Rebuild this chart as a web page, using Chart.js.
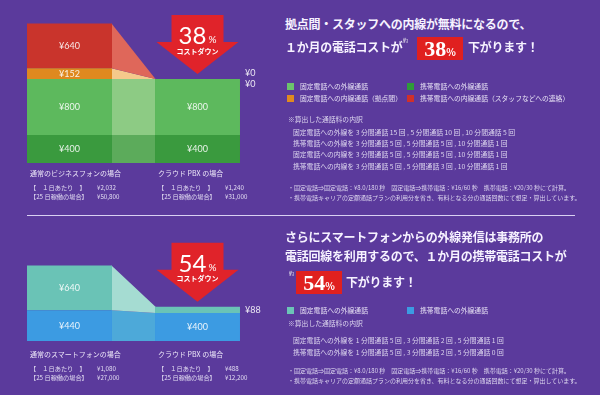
<!DOCTYPE html>
<html>
<head>
<meta charset="utf-8">
<script src="https://cdn.jsdelivr.net/npm/chart.js@4/dist/chart.umd.min.js"></script>
<style>
body { margin: 0; width: 600px; height: 395px; overflow: hidden; position: relative; background: #5b3a9c; color: #fff; font-family: "Noto Sans CJK JP", "Noto Sans", sans-serif; }
canvas { position: absolute; left: 0; }
.t { position: absolute; white-space: nowrap; line-height: 1; }
.head { font-size: 12px; font-weight: 700; letter-spacing: -0.25px; color: #f6f2ff; }
.yaku { font-size: 5px; color: #eee; }
.box { position: absolute; width: 46px; height: 23px; background: #e0201f; text-align: center; line-height: 23px; font-family: "Liberation Serif", serif; font-weight: 700; font-size: 22px; color: #fff; }
.box small { font-size: 10px; font-family: "Noto Sans CJK JP", sans-serif; }
.leg { font-size: 6.8px; color: #e6e0f4; }
.leg i { display: inline-block; width: 7px; height: 7px; margin-right: 6px; vertical-align: -1px; }
.sub { font-size: 6.8px; color: #ddd6ef; }
.note { font-size: 6px; color: #ddd6ef; }
.cap { font-size: 7px; color: #ece6f8; }
.sum { font-size: 6.2px; color: #e2dcf2; line-height: 9px; }
.sum span { display: inline-block; width: 67px; }
.rule { position: absolute; left: 27px; top: 215px; width: 548px; height: 1px; background: #d9d0f2; }
</style>
</head>
<body>
<canvas id="office" width="270" height="210" style="top:0"></canvas>
<canvas id="phone" width="270" height="200" style="top:195px"></canvas>
<div class="rule"></div>

<div class="t head" style="left:285px;top:18px">拠点間・スタッフへの内線が無料になるので、</div>
<div class="t head" style="left:285px;top:41px">１か月の電話コストが</div>
<div class="t yaku" style="left:403px;top:37px">約</div>
<div class="box" id="officeBox" style="left:417px;top:37px"></div>
<div class="t head" style="left:468px;top:41px">下がります！</div>

<div class="t leg" style="left:287px;top:83px"><i style="background:#6cc36c"></i>固定電話への外線通話</div>
<div class="t leg" style="left:407px;top:83px"><i style="background:#2f9a3a"></i>携帯電話への外線通話</div>
<div class="t leg" style="left:287px;top:95px"><i style="background:#e08a20"></i>固定電話への内線通話（拠点間）</div>
<div class="t leg" style="left:407px;top:95px"><i style="background:#d0302a"></i>携帯電話への内線通話（スタッフなどへの連絡）</div>

<div class="t sub" style="left:288px;top:116px">※算出した通話料の内訳</div>
<div class="t sub" style="left:293px;top:129px">固定電話への外線を 3 分間通話 15 回 , 5 分間通話 10 回 , 10 分間通話 5 回</div>
<div class="t sub" style="left:293px;top:140px">携帯電話への外線を 3 分間通話 5 回 , 5 分間通話 5 回 , 10 分間通話 1 回</div>
<div class="t sub" style="left:293px;top:151px">固定電話への内線を 3 分間通話 5 回 , 5 分間通話 5 回 , 10 分間通話 1 回</div>
<div class="t sub" style="left:293px;top:163px">携帯電話への内線を 3 分間通話 5 回 , 5 分間通話 3 回 , 10 分間通話 1 回</div>
<div class="t note" style="left:288px;top:185px">・固定電話⇒固定電話：¥8.0/180 秒　固定電話⇒携帯電話：¥16/60 秒　携帯電話：¥20/30 秒にて計算。</div>
<div class="t note" style="left:288px;top:195px">・携帯電話キャリアの定額通話プランの利用分を省き、有料となる分の通話回数にて想定・算出しています。</div>

<div class="t head" style="left:285px;top:231px">さらにスマートフォンからの外線発信は事務所の</div>
<div class="t head" style="left:285px;top:250px">電話回線を利用するので、１か月の携帯電話コストが</div>
<div class="t yaku" style="left:289px;top:270px">約</div>
<div class="box" id="phoneBox" style="left:296px;top:271px"></div>
<div class="t head" style="left:346px;top:276px">下がります！</div>

<div class="t leg" style="left:287px;top:307px"><i style="background:#6cc4b7"></i>固定電話への外線通話</div>
<div class="t leg" style="left:407px;top:307px"><i style="background:#3c9be2"></i>携帯電話への外線通話</div>
<div class="t sub" style="left:288px;top:320px">※算出した通話料の内訳</div>
<div class="t sub" style="left:293px;top:337px">固定電話への外線を 1 分間通話 5 回 , 3 分間通話 2 回 , 5 分間通話 1 回</div>
<div class="t sub" style="left:293px;top:349px">携帯電話への外線を 1 分間通話 5 回 , 3 分間通話 2 回 , 5 分間通話 0 回</div>
<div class="t note" style="left:288px;top:368px">・固定電話⇒固定電話：¥8.0/180 秒　固定電話⇒携帯電話：¥16/60 秒　携帯電話：¥20/30 秒にて計算。</div>
<div class="t note" style="left:288px;top:378px">・携帯電話キャリアの定額通話プランの利用分を省き、有料となる分の通話回数にて想定・算出しています。</div>

<div id="officeCaps"></div>
<div id="phoneCaps"></div>

<script>
// top chart: office phones vs cloud PBX (yen per day)
const officeLabels = ['通常のビジネスフォンの場合', 'クラウド PBX の場合'];
const officeMobileOut = [400, 400];
const officeFixedOut = [800, 800];
const officeFixedIn = [152, 0];
const officeMobileIn = [640, 0];
const officeDaily = ['¥2,032', '¥1,240'];
const officeMonthly = ['¥50,800', '¥31,000'];
const officeCut = '38';

// bottom chart: smartphones vs cloud PBX
const phoneLabels = ['通常のスマートフォンの場合', 'クラウド PBX の場合'];
const phoneMobileOut = [440, 400];
const phoneFixedOut = [640, 88];
const phoneDaily = ['¥1,080', '¥488'];
const phoneMonthly = ['¥27,000', '¥12,200'];
const phoneCut = '54';

const Y_MAX = 2000;

// lighter band joining each stacked block of the two bars
const linkPlugin = {
    id: 'costLinks',
    beforeDatasetsDraw(chart) {
        const ctx = chart.ctx;
        ctx.save();
        chart.data.datasets.forEach((ds, i) => {
            const [a, b] = chart.getDatasetMeta(i).data;
            const x1 = a.x + a.width / 2 - 0.5;
            const x2 = b.x - b.width / 2 + 0.5;
            ctx.fillStyle = ds.linkColor;
            ctx.beginPath();
            ctx.moveTo(x1, a.y);
            ctx.lineTo(x2, b.y);
            ctx.lineTo(x2, b.base);
            ctx.lineTo(x1, a.base);
            ctx.closePath();
            ctx.fill();
        });
        ctx.restore();
    }
};

const valuePlugin = {
    id: 'costValues',
    afterDatasetsDraw(chart) {
        const ctx = chart.ctx;
        ctx.save();
        ctx.font = '9px Lato, "Noto Sans", sans-serif';
        ctx.fillStyle = 'rgba(255,255,255,0.88)';
        ctx.textBaseline = 'middle';
        const outside = [[], []];
        chart.data.datasets.forEach((ds, i) => {
            chart.getDatasetMeta(i).data.forEach((bar, j) => {
                const text = '¥' + ds.data[j];
                if (bar.base - bar.y >= 9) {
                    ctx.textAlign = 'center';
                    ctx.fillText(text, bar.x, (bar.y + bar.base) / 2);
                } else {
                    outside[j].push({ bar, text });
                }
            });
        });
        outside.forEach(list => {
            list.forEach((item, k) => {
                const y = (item.bar.y + item.bar.base) / 2 + (list.length - 1 - 2 * k) * 5.5;
                ctx.textAlign = 'left';
                ctx.fillText(item.text, item.bar.x + item.bar.width / 2 + 5, y);
            });
        });
        ctx.restore();
    }
};

const arrowPlugin = {
    id: 'costArrow',
    afterDatasetsDraw(chart, args, opts) {
        const metas = chart.getSortedVisibleDatasetMetas();
        const cx = metas[0].data[1].x;
        const tip = Math.min(...metas.map(m => m.data[1].y)) - 5;
        const ctx = chart.ctx;
        ctx.save();
        ctx.fillStyle = '#e0232a';
        ctx.beginPath();
        ctx.moveTo(cx - 26, tip - 59);
        ctx.lineTo(cx + 26, tip - 59);
        ctx.lineTo(cx + 26, tip - 32);
        ctx.lineTo(cx + 41, tip - 32);
        ctx.lineTo(cx, tip);
        ctx.lineTo(cx - 41, tip - 32);
        ctx.lineTo(cx - 26, tip - 32);
        ctx.closePath();
        ctx.fill();

        ctx.fillStyle = '#fff';
        ctx.textBaseline = 'alphabetic';
        ctx.font = '24px Lato, "Noto Sans", sans-serif';
        const w1 = ctx.measureText(opts.text).width;
        ctx.font = '10px Lato, "Noto Sans", sans-serif';
        const w2 = ctx.measureText('%').width;
        const x0 = cx - (w1 + 2 + w2) / 2;
        ctx.textAlign = 'left';
        ctx.font = '24px Lato, "Noto Sans", sans-serif';
        ctx.fillText(opts.text, x0, tip - 30);
        ctx.font = '10px Lato, "Noto Sans", sans-serif';
        ctx.fillText('%', x0 + w1 + 2, tip - 31);
        ctx.font = 'bold 7px "Noto Sans CJK JP", sans-serif';
        ctx.textAlign = 'center';
        ctx.textBaseline = 'middle';
        ctx.fillText('コストダウン', cx, tip - 23);
        ctx.restore();
    }
};

function renderCostChart(canvasId, labels, datasets, cut, padding) {
    return new Chart(document.getElementById(canvasId), {
        type: 'bar',
        data: { labels: labels, datasets: datasets },
        options: {
            responsive: false,
            animation: false,
            layout: { padding: padding },
            datasets: { bar: { categoryPercentage: 0.664, barPercentage: 1, borderWidth: 0 } },
            plugins: {
                legend: { display: false },
                tooltip: { enabled: false },
                costArrow: { text: cut }
            },
            scales: {
                x: { display: false, stacked: true },
                y: { display: false, stacked: true, min: 0, max: Y_MAX }
            }
        },
        plugins: [linkPlugin, valuePlugin, arrowPlugin]
    });
}

function renderCaptions(elId, chart, labels, daily, monthly, gap) {
    const meta = chart.getDatasetMeta(0);
    const top = chart.canvas.offsetTop + chart.chartArea.bottom + gap;
    let html = '';
    labels.forEach((label, j) => {
        const x = meta.data[j].x - meta.data[j].width / 2 + 3;
        html += '<div class="t cap" style="left:' + x + 'px;top:' + top + 'px">' + label + '</div>';
        html += '<div class="t sum" style="left:' + x + 'px;top:' + (top + 13) + 'px">' +
            '<span>【　１日あたり　】</span>' + daily[j] + '<br><span>【25 日稼働の場合】</span>' + monthly[j] + '</div>';
    });
    document.getElementById(elId).innerHTML = html;
}

const office = renderCostChart('office', officeLabels, [
    { label: '携帯電話への外線通話', data: officeMobileOut, backgroundColor: '#3a9a3e', linkColor: '#5cab5b' },
    { label: '固定電話への外線通話', data: officeFixedOut, backgroundColor: '#5db95d', linkColor: '#8dcb84' },
    { label: '固定電話への内線通話（拠点間）', data: officeFixedIn, backgroundColor: '#df891f', linkColor: '#f5c98b' },
    { label: '携帯電話への内線通話（スタッフなどへの連絡）', data: officeMobileIn, backgroundColor: '#c9342c', linkColor: '#df675a' }
], officeCut, { left: 5.5, right: 8.5, top: 23, bottom: 47 });

const phone = renderCostChart('phone', phoneLabels, [
    { label: '携帯電話への外線通話', data: phoneMobileOut, backgroundColor: '#3c9be2', linkColor: '#4da9d9' },
    { label: '固定電話への外線通話', data: phoneFixedOut, backgroundColor: '#6ac3b6', linkColor: '#a5dcd2' }
], phoneCut, { left: 5.5, right: 8.5, top: 6, bottom: 54 });

renderCaptions('officeCaps', office, officeLabels, officeDaily, officeMonthly, 7);
renderCaptions('phoneCaps', phone, phoneLabels, phoneDaily, phoneMonthly, 10);
document.getElementById('officeBox').innerHTML = officeCut + '<small>%</small>';
document.getElementById('phoneBox').innerHTML = phoneCut + '<small>%</small>';
</script>
</body>
</html>
